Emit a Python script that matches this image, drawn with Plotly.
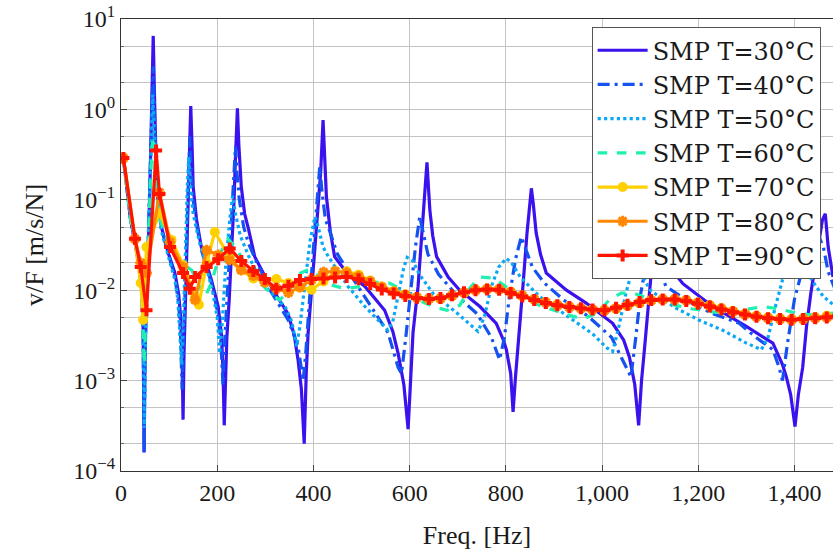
import plotly.graph_objects as go

# ---------------- data ----------------
f30 = [5, 20, 30, 38, 43, 46, 48, 50, 54, 58,
       62, 65, 67, 69, 71, 74, 79, 84, 98, 112,
       120, 124, 127, 129, 131, 134, 137, 141, 145, 148,
       150, 157, 167, 188, 202, 209, 212, 214.6, 217, 220,
       225, 230, 235, 238, 242, 245, 250, 257, 264, 278,
       300, 320, 347, 360, 368, 375, 380.8, 385, 389, 399,
       405, 410, 415, 420, 423, 427, 435, 444, 465, 507,
       548, 565, 576, 588, 596.8, 602, 607, 617.5, 623, 628,
       632, 636, 639, 642, 648, 656, 680, 704, 746, 780,
       795, 801, 810, 815, 820, 825, 836, 844, 850, 853,
       857, 863, 872, 884, 926, 967, 1022, 1045, 1057, 1068,
       1076, 1082, 1088, 1099, 1106, 1112, 1117, 1123, 1130, 1140,
       1168, 1230, 1299, 1355, 1375, 1383, 1392, 1401, 1408, 1417,
       1425, 1434, 1448, 1458, 1464, 1470, 1480]
v30 = [0.29, 0.06, 0.032, 0.018, 0.01, 0.004, 0.00016, 0.002, 0.012, 0.05,
       0.4, 2.0, 6.5, 2.0, 0.5, 0.14, 0.075, 0.05, 0.026, 0.0155,
       0.009, 0.005, 0.0018, 0.00037, 0.002, 0.009, 0.04, 0.33, 1.09, 0.35,
       0.14, 0.06, 0.03, 0.013, 0.0066, 0.0031, 0.0013, 0.00032, 0.0012, 0.003,
       0.008, 0.026, 0.1, 0.3, 1.03, 0.4, 0.14, 0.07, 0.05, 0.0235,
       0.014, 0.0093, 0.0055, 0.0032, 0.0017, 0.0008, 0.0002, 0.0012, 0.0034, 0.0155,
       0.04, 0.083, 0.2, 0.76, 0.3, 0.108, 0.045, 0.0235, 0.0167, 0.011,
       0.006, 0.0035, 0.002, 0.0009, 0.00029, 0.0012, 0.0034, 0.011, 0.03, 0.077,
       0.14, 0.26, 0.14, 0.077, 0.04, 0.0235, 0.014, 0.01, 0.0066, 0.0043,
       0.0028, 0.0022, 0.0012, 0.00045, 0.0011, 0.0022, 0.012, 0.043, 0.09, 0.134,
       0.09, 0.043, 0.025, 0.0155, 0.01, 0.0072, 0.0043, 0.0028, 0.0018, 0.0009,
       0.00032, 0.001, 0.0022, 0.0093, 0.028, 0.06, 0.075, 0.05, 0.03, 0.018,
       0.0118, 0.0066, 0.004, 0.0026, 0.0015, 0.0011, 0.0007, 0.00031, 0.0007, 0.0014,
       0.004, 0.0093, 0.028, 0.06, 0.07, 0.03, 0.014]

f40 = [5, 20, 30, 38, 43, 46, 48, 50, 54, 58,
       62, 65, 67, 69, 71, 74, 84, 98, 112, 120,
       124, 127, 130, 134, 138, 141, 143, 146, 150, 158,
       167, 188, 200, 207, 212, 216, 222, 228, 234, 238,
       241, 246, 255, 265, 280, 310, 347.5, 368, 378.6, 384,
       392, 400, 407, 413, 418, 425, 431, 450, 480, 507,
       555, 576, 583, 592, 603, 612, 621, 628, 638, 660,
       700, 740, 770, 787, 797, 808, 820, 832, 840, 855,
       880, 920, 970, 1020, 1040, 1060, 1070, 1080, 1092, 1100,
       1112, 1133, 1180, 1230, 1285, 1320, 1355, 1368, 1375, 1385,
       1400, 1420, 1440, 1450, 1460, 1470, 1485]
v40 = [0.29, 0.06, 0.032, 0.018, 0.01, 0.004, 0.00016, 0.002, 0.012, 0.05,
       0.35, 1.5, 3.0, 1.2, 0.4, 0.13, 0.048, 0.025, 0.014, 0.007,
       0.003, 0.0008, 0.003, 0.015, 0.08, 0.25, 0.5, 0.2, 0.1, 0.05,
       0.028, 0.012, 0.006, 0.003, 0.0009, 0.003, 0.012, 0.05, 0.15, 0.39,
       0.2, 0.1, 0.05, 0.033, 0.0216, 0.01, 0.0047, 0.0024, 0.001, 0.002,
       0.008, 0.03, 0.09, 0.23, 0.12, 0.06, 0.05, 0.025, 0.014, 0.0085,
       0.0034, 0.0014, 0.0012, 0.003, 0.011, 0.03, 0.065, 0.045, 0.025, 0.015,
       0.0085, 0.0055, 0.003, 0.0017, 0.003, 0.009, 0.022, 0.039, 0.03, 0.018,
       0.012, 0.0078, 0.0052, 0.003, 0.0018, 0.0011, 0.003, 0.009, 0.02, 0.03,
       0.02, 0.011, 0.0075, 0.0055, 0.0043, 0.003, 0.0022, 0.0014, 0.001, 0.0025,
       0.008, 0.02, 0.035, 0.04, 0.03, 0.016, 0.01]

f50 = [5, 20, 30, 38, 43, 46, 48.5, 51, 55, 60,
       64, 66, 68, 71, 75, 84, 98, 112, 118, 123,
       126, 130, 134, 138, 141, 144, 150, 160, 175, 190,
       200, 205, 210, 218, 226, 232, 238, 248, 265, 290,
       300, 320, 341, 355, 365, 372, 383, 393, 403, 410,
       420, 431, 472, 507, 534, 555, 565, 578, 588, 595,
       607, 620, 650, 700, 730, 742, 755, 770, 785, 801,
       812, 830, 870, 920, 980, 1010, 1022, 1035, 1050, 1062,
       1070, 1085, 1100, 1150, 1200, 1251, 1300, 1331, 1345, 1360,
       1375, 1392, 1405, 1420, 1440, 1460, 1485]
v50 = [0.29, 0.06, 0.032, 0.018, 0.01, 0.004, 0.0003, 0.003, 0.02, 0.15,
       0.8, 1.45, 0.8, 0.3, 0.12, 0.045, 0.024, 0.013, 0.008, 0.003,
       0.0015, 0.005, 0.03, 0.15, 0.3, 0.15, 0.07, 0.04, 0.02, 0.01,
       0.005, 0.002, 0.004, 0.02, 0.06, 0.11, 0.07, 0.04, 0.024, 0.013,
       0.011, 0.0085, 0.0066, 0.0045, 0.0024, 0.004, 0.012, 0.035, 0.065, 0.05,
       0.03, 0.0235, 0.011, 0.0066, 0.0047, 0.0036, 0.0045, 0.01, 0.018, 0.023,
       0.021, 0.015, 0.009, 0.0055, 0.004, 0.0035, 0.005, 0.011, 0.018, 0.0225,
       0.02, 0.014, 0.0085, 0.0055, 0.0033, 0.0023, 0.0021, 0.004, 0.0095, 0.016,
       0.018, 0.014, 0.01, 0.0065, 0.0047, 0.0036, 0.0026, 0.0022, 0.003, 0.0065,
       0.013, 0.02, 0.022, 0.018, 0.012, 0.0085, 0.0066]

f60 = [5, 20, 30, 38, 44, 48, 51, 55, 60, 64,
       67, 70, 74, 81, 100, 125, 147, 163, 175, 188,
       205, 222, 238, 260, 290, 315, 330, 350, 368, 390,
       410, 435, 465, 500, 530, 558, 590, 625, 656, 678,
       704, 725, 745, 775, 800, 829, 870, 925, 960, 990,
       1015, 1040, 1065, 1095, 1133, 1188, 1237, 1290, 1334, 1369,
       1403, 1440, 1485]
v60 = [0.29, 0.06, 0.032, 0.018, 0.008, 0.0015, 0.004, 0.02, 0.1, 0.35,
       0.5, 0.3, 0.12, 0.06, 0.032, 0.02, 0.0167, 0.011, 0.0085, 0.012,
       0.025, 0.037, 0.03, 0.019, 0.012, 0.0088, 0.0078, 0.01, 0.015, 0.017,
       0.0145, 0.0115, 0.0104, 0.011, 0.0122, 0.012, 0.0098, 0.0075, 0.0064, 0.006,
       0.0068, 0.0105, 0.014, 0.0136, 0.011, 0.0085, 0.0068, 0.0054, 0.0048, 0.0056,
       0.0078, 0.0093, 0.0093, 0.0082, 0.0072, 0.0062, 0.0057, 0.006, 0.0066, 0.0062,
       0.0056, 0.0053, 0.0056]

f70 = [5, 29, 41, 46, 53, 80, 105, 129, 154, 162, 178, 195,
       226, 250, 275, 299, 323, 348, 372, 396,
       421, 445, 469, 494, 518, 542, 567, 591, 615, 640,
       664, 688, 713, 737, 761, 786, 810, 834, 859, 883,
       907, 932, 956, 980, 1005, 1029, 1053, 1078, 1102, 1126,
       1151, 1175, 1199, 1224, 1248, 1272, 1297, 1321, 1345, 1370,
       1394, 1418, 1443, 1467, 1491]
v70 = [0.29, 0.037, 0.012, 0.0047, 0.03, 0.071, 0.036, 0.019, 0.0085, 0.0069, 0.02, 0.044,
       0.023, 0.0167, 0.0135, 0.0127, 0.0133, 0.012, 0.0108, 0.0101,
       0.0125, 0.0157, 0.0162, 0.0148, 0.0128, 0.011, 0.0098, 0.009, 0.0084, 0.008,
       0.008, 0.0086, 0.0094, 0.0101, 0.0104, 0.0103, 0.0096, 0.0087, 0.008, 0.0074,
       0.0069, 0.0066, 0.0063, 0.0061, 0.006, 0.0062, 0.0067, 0.0072, 0.0077, 0.008,
       0.008, 0.0078, 0.0073, 0.0068, 0.0063, 0.0059, 0.0055, 0.0052, 0.005, 0.0049,
       0.0048, 0.0049, 0.005, 0.0052, 0.0054]

f80 = [5, 29, 41, 53, 80, 102, 129, 154,
       178, 202, 226, 250, 275, 299, 323, 348, 372, 396,
       421, 445, 469, 494, 518, 542, 567, 591, 615, 640,
       664, 688, 713, 737, 761, 786, 810, 834, 859, 883,
       907, 932, 956, 980, 1005, 1029, 1053, 1078, 1102, 1126,
       1151, 1175, 1199, 1224, 1248, 1272, 1297, 1321, 1345, 1370,
       1394, 1418, 1443, 1467, 1491]
v80 = [0.29, 0.037, 0.02, 0.0155, 0.12, 0.034, 0.018, 0.0078,
       0.0278, 0.0245, 0.0216, 0.0167, 0.0145, 0.0122, 0.0105, 0.0094, 0.0108, 0.013,
       0.0158, 0.0162, 0.0155, 0.0142, 0.0125, 0.0108, 0.0096, 0.0088, 0.0083, 0.008,
       0.0081, 0.0087, 0.0094, 0.01, 0.0103, 0.0102, 0.0095, 0.0087, 0.0079, 0.0073,
       0.0068, 0.0065, 0.0063, 0.0061, 0.006, 0.0063, 0.0068, 0.0073, 0.0077, 0.0079,
       0.0079, 0.0077, 0.0072, 0.0067, 0.0062, 0.0058, 0.0054, 0.0051, 0.0049, 0.0048,
       0.0047, 0.0048, 0.0049, 0.005, 0.0052]

f90 = [5, 29, 41, 53, 73, 80, 102, 129, 143, 154,
       178, 202, 226, 250, 275, 299, 323, 348, 372, 396,
       421, 445, 469, 494, 518, 542, 567, 591, 615, 640,
       664, 688, 713, 737, 761, 786, 810, 834, 859, 883,
       907, 932, 956, 980, 1005, 1029, 1053, 1078, 1102, 1126,
       1151, 1175, 1199, 1224, 1248, 1272, 1297, 1321, 1345, 1370,
       1394, 1418, 1443, 1467, 1491]
v90 = [0.29, 0.037, 0.018, 0.006, 0.35, 0.116, 0.030, 0.0155, 0.0104, 0.014,
       0.018, 0.022, 0.029, 0.021, 0.0163, 0.0133, 0.0104, 0.0112, 0.013, 0.0133,
       0.0135, 0.0138, 0.014, 0.0132, 0.0117, 0.0102, 0.0092, 0.0086, 0.0082, 0.008,
       0.0082, 0.0088, 0.0095, 0.01, 0.0102, 0.0101, 0.0093, 0.0085, 0.0078, 0.0072,
       0.0068, 0.0065, 0.0063, 0.0061, 0.006, 0.0064, 0.0069, 0.0074, 0.0078, 0.0079,
       0.0079, 0.0076, 0.0071, 0.0066, 0.0061, 0.0057, 0.0054, 0.0051, 0.0049, 0.0048,
       0.0047, 0.0048, 0.0049, 0.005, 0.0052]

series_names = ["SMP T=30°C", "SMP T=40°C", "SMP T=50°C", "SMP T=60°C",
                "SMP T=70°C", "SMP T=80°C", "SMP T=90°C"]

x_tick_vals = [0, 200, 400, 600, 800, 1000, 1200, 1400]
x_tick_text = ["0", "200", "400", "600", "800", "1,000", "1,200", "1,400"]
y_tick_vals = [1e-4, 1e-3, 1e-2, 1e-1, 1e0, 1e1]
y_tick_text = ["10<sup>−4</sup>", "10<sup>−3</sup>", "10<sup>−2</sup>",
               "10<sup>−1</sup>", "10<sup>0</sup>", "10<sup>1</sup>"]

# ---------------- figure ----------------
FONT = "Liberation Serif, DejaVu Serif, Times New Roman, serif"
LEG_FONT = "DejaVu Serif, Liberation Serif, serif"
fig = go.Figure()

line_specs = [
    (f30, v30, "#3b12ee", "solid"),
    (f40, v40, "#1452f2", "12px,5px,3px,5px"),
    (f50, v50, "#0aa8f5", "dot"),
    (f60, v60, "#1ef0b0", "dash"),
]
for (fx, vy, col, dash), name in zip(line_specs, series_names[:4]):
    fig.add_trace(go.Scatter(x=fx, y=vy, mode="lines", name=name,
                             line=dict(color=col, width=3.2, dash=dash)))

marker_specs = [
    (f70, v70, "#ffd000", dict(symbol="circle", size=10, color="#ffd000")),
    (f80, v80, "#ff8800", dict(symbol="asterisk-open", size=9,
                                line=dict(color="#ff8800", width=3))),
    (f90, v90, "#ff1400", dict(symbol="cross", size=10, color="#ff1400")),
]
for (fx, vy, col, mk), name in zip(marker_specs, series_names[4:]):
    fig.add_trace(go.Scatter(x=fx, y=vy, mode="lines+markers", name=name,
                             line=dict(color=col, width=3.2), marker=mk))

grid_col = "#c4c4c4"
fig.update_layout(
    width=833, height=550,
    margin=dict(l=121, r=0, t=19, b=79, autoexpand=False),
    plot_bgcolor="white", paper_bgcolor="white",
    font=dict(family=FONT, size=24, color="#1a1a1a"),
    showlegend=True,
    legend=dict(x=0.661, y=0.982, xanchor="left", yanchor="top",
                bgcolor="white", bordercolor="#555555", borderwidth=1,
                font=dict(family=LEG_FONT, size=24, color="#1a1a1a"),
                tracegroupgap=0, itemwidth=50),
)
fig.update_xaxes(
    range=[0, 1480], tickmode="array", tickvals=x_tick_vals, ticktext=x_tick_text,
    showgrid=True, gridcolor=grid_col, gridwidth=1, zeroline=False,
    ticks="inside", ticklen=6, tickcolor="#444444",
    showline=True, linecolor="#333333", linewidth=1.3, mirror=True,
    title=dict(text="Freq. [Hz]", font=dict(family=FONT, size=26), standoff=20),
)
fig.update_yaxes(
    type="log", range=[-4, 1], tickmode="array", tickvals=y_tick_vals, ticktext=y_tick_text,
    showgrid=True, gridcolor=grid_col, gridwidth=1, zeroline=False,
    ticks="inside", ticklen=6, tickcolor="#444444",
    showline=True, linecolor="#333333", linewidth=1.3,
    minor=dict(ticks="inside", ticklen=3, tickcolor="#666666",
               showgrid=True, gridcolor=grid_col, gridwidth=1),
    title=dict(text="v/F [m/s/N]", font=dict(family=FONT, size=26), standoff=22),
)

fig.write_html("out.html", config={"displayModeBar": False},
               post_script="document.body.style.margin='0px';")
